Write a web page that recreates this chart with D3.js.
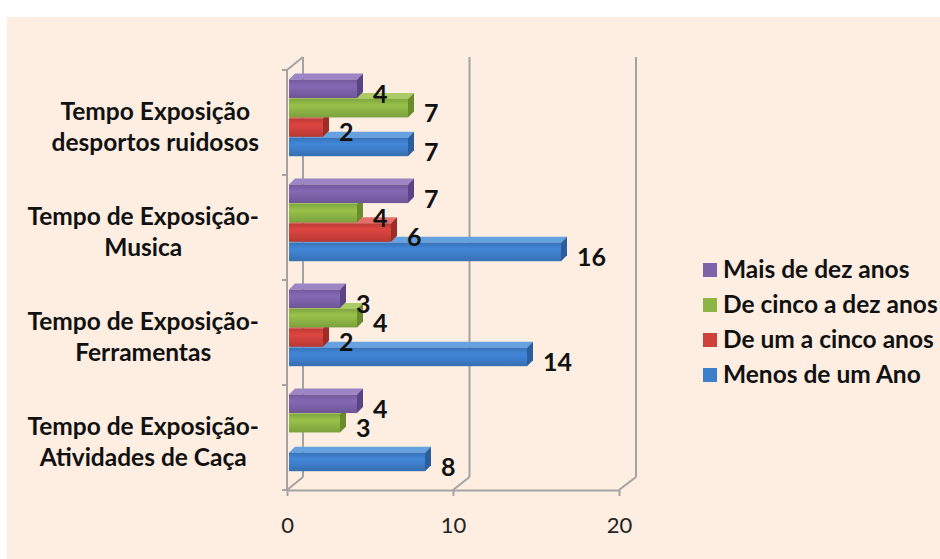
<!DOCTYPE html>
<html>
<head>
<meta charset="utf-8">
<script src="https://cdn.jsdelivr.net/npm/d3@7"></script>
<style>
  html, body { margin: 0; padding: 0; background: #ffffff; }
  svg { display: block; }
  text { font-family: Lato, "Open Sans", sans-serif; }
</style>
</head>
<body>
<svg id="chart" width="940" height="559"></svg>
<script>
// Categories, top to bottom
const categories = [
  ["Tempo Exposição", "desportos ruidosos"],
  ["Tempo de Exposição-", "Musica"],
  ["Tempo de Exposição-", "Ferramentas"],
  ["Tempo de Exposição-", "Atividades de Caça"]
];
// Series, in legend order (top to bottom inside each group)
const seriesNames = ["Mais de dez anos", "De cinco a dez anos", "De um a cinco anos", "Menos de um Ano"];
const maisDezAnos   = [4, 7, 3, 4];
const cincoADezAnos = [7, 4, 4, 3];
const umACincoAnos  = [2, 6, 2, null];
const menosUmAno    = [7, 16, 14, 8];
const seriesValues = [maisDezAnos, cincoADezAnos, umACincoAnos, menosUmAno];
const xTicks = [0, 10, 20];

// Face colours per series: [front, top, end]
const palette = [
  ["#7D61A9", "#9C86C6", "#5B4486"],
  ["#8DB545", "#AACB66", "#6A8C2C"],
  ["#CF403B", "#E2706B", "#A02C28"],
  ["#3D7ECA", "#66A2DF", "#2A5E9E"]
];

(function draw() {
  const svg = d3.select("#chart");
  const catKeys = categories.map((c, i) => i);

  // chart background
  svg.append("rect").attr("x", 7).attr("y", 17).attr("width", 933).attr("height", 542).attr("fill", "#FDEEE1");

  // 3D frame geometry
  const yTop = 70, yFloor = 490;
  const depthX = 16, depthY = 13;
  const xFront = d3.scaleLinear().domain([0, 20]).range([287, 619]);
  const xBack  = d3.scaleLinear().domain([0, 20]).range([287 + depthX, 619 + depthX + 1]);
  const xBar   = d3.scaleLinear().domain([0, 20]).range([289, 629]);
  const yCat = d3.scaleBand().domain(catKeys).range([yTop, yFloor]).paddingInner(0);
  const ySer = d3.scaleBand().domain(d3.range(seriesNames.length)).range([9.5, 87]);

  const gridColor = "#A3A3A3";
  const frame = svg.append("g").attr("stroke", gridColor).attr("stroke-width", 2).attr("fill", "none");

  // back wall gridlines
  frame.selectAll("line.grid").data(xTicks).join("line")
    .attr("class", "grid")
    .attr("x1", d => xBack(d)).attr("x2", d => xBack(d))
    .attr("y1", yTop - depthY).attr("y2", yFloor - depthY);
  // floor diagonals
  frame.selectAll("line.diag").data(xTicks).join("line")
    .attr("class", "diag")
    .attr("x1", d => xFront(d)).attr("y1", yFloor)
    .attr("x2", d => xBack(d)).attr("y2", yFloor - depthY);
  // left wall: front edge and top diagonal
  frame.append("line").attr("x1", xFront(0)).attr("x2", xFront(0)).attr("y1", yTop).attr("y2", yFloor);
  frame.append("line").attr("x1", xFront(0)).attr("y1", yTop).attr("x2", xBack(0)).attr("y2", yTop - depthY);
  // category boundary ticks
  const boundaries = catKeys.map(k => yCat(k)).concat([yFloor]);
  frame.selectAll("line.ctick").data(boundaries).join("line")
    .attr("class", "ctick")
    .attr("x1", xFront(0) - 5).attr("x2", xFront(0))
    .attr("y1", d => d).attr("y2", d => d);

  // value axis along the floor front edge
  const xAxis = d3.axisBottom(xFront).tickValues(xTicks).tickSize(6).tickSizeOuter(0).tickPadding(21);
  const axisG = svg.append("g").attr("transform", `translate(0,${yFloor})`).call(xAxis);
  axisG.select(".domain").attr("stroke", gridColor).attr("stroke-width", 2);
  axisG.selectAll(".tick line").attr("stroke", gridColor).attr("stroke-width", 2);
  axisG.selectAll(".tick text")
    .attr("fill", "#222").attr("font-size", 22).attr("font-family", "Lato, sans-serif");

  // front face shading
  const defs = svg.append("defs");
  palette.forEach((p, i) => {
    const g = defs.append("linearGradient").attr("id", "front" + i)
      .attr("x1", 0).attr("y1", 0).attr("x2", 0).attr("y2", 1);
    g.append("stop").attr("offset", "0%").attr("stop-color", d3.color(p[0]).darker(0.25));
    g.append("stop").attr("offset", "35%").attr("stop-color", d3.color(p[0]).brighter(0.2));
    g.append("stop").attr("offset", "100%").attr("stop-color", d3.color(p[0]).darker(0.35));
  });

  // bars: each group is drawn from the lowest series up, so each bar covers the top face below it
  const barDX = 6, barDY = 6;
  const bars = svg.append("g");
  catKeys.forEach(ci => {
    for (let si = seriesNames.length - 1; si >= 0; si--) {
      const v = seriesValues[si][ci];
      if (v == null) continue;
      const y = yCat(ci) + ySer(si);
      const h = ySer.bandwidth() - 0.8;
      const x0 = xBar(0), x1 = xBar(v);
      const g = bars.append("g");
      g.append("path")
        .attr("d", `M${x0},${y}L${x1},${y}L${x1 + barDX},${y - barDY}L${x0 + barDX},${y - barDY}Z`)
        .attr("fill", palette[si][1]);
      g.append("path")
        .attr("d", `M${x1},${y}L${x1 + barDX},${y - barDY}L${x1 + barDX},${y + h - barDY}L${x1},${y + h}Z`)
        .attr("fill", palette[si][2]);
      g.append("rect")
        .attr("x", x0).attr("y", y).attr("width", x1 - x0).attr("height", h)
        .attr("fill", `url(#front${si})`);
    }
  });

  // data labels
  const labels = svg.append("g").attr("font-size", 25).attr("font-weight", 700).attr("fill", "#111");
  catKeys.forEach(ci => {
    seriesValues.forEach((vals, si) => {
      const v = vals[ci];
      if (v == null) return;
      const cy = yCat(ci) + ySer(si) + ySer.bandwidth() / 2 + 3.5;
      labels.append("text")
        .attr("x", xBar(v) + 16).attr("y", cy)
        .attr("dominant-baseline", "central")
        .text(v);
    });
  });

  // category labels: centred lines, block aligned right
  const catG = svg.append("g").attr("font-size", 24.5).attr("font-weight", 700).attr("fill", "#111");
  categories.forEach((lines, ci) => {
    const g = catG.append("g");
    const cy = yCat(ci) + yCat.bandwidth() / 2 + 3;
    const lh = 31;
    const texts = lines.map((s, li) => g.append("text")
      .attr("y", cy + (li - (lines.length - 1) / 2) * lh)
      .attr("dominant-baseline", "central")
      .attr("text-anchor", "middle")
      .text(s));
    const w = d3.max(texts, t => t.node().getComputedTextLength());
    texts.forEach(t => t.attr("x", 259 - w / 2));
  });

  // legend
  const legend = svg.append("g").attr("font-size", 24.5).attr("font-weight", 700).attr("fill", "#111");
  seriesNames.forEach((name, si) => {
    const base = 278 + si * 35;
    legend.append("rect").attr("x", 703).attr("y", base - 15).attr("width", 14).attr("height", 14)
      .attr("fill", palette[si][0]);
    legend.append("text").attr("x", 723).attr("y", base).text(name);
  });
})();
</script>
</body>
</html>
